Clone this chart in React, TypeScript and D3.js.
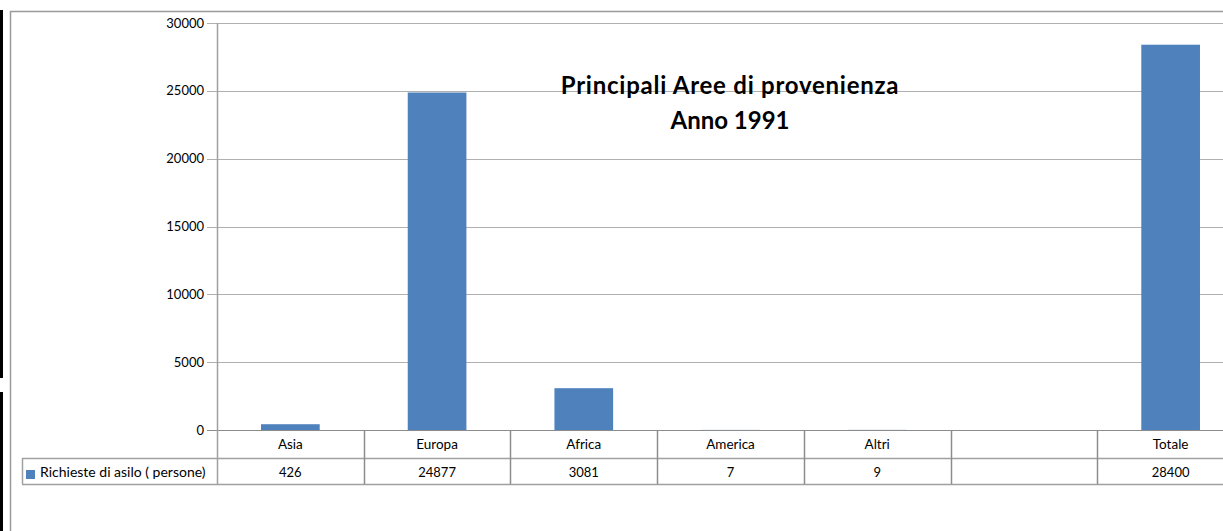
import React from "react";
import * as d3 from "d3";

const categories = ["Asia", "Europa", "Africa", "America", "Altri", "", "Totale"];
const values: (number | null)[] = [426, 24877, 3081, 7, 9, null, 28400];
const valueLabels = ["426", "24877", "3081", "7", "9", "", "28400"];
const yTicks = [0, 5000, 10000, 15000, 20000, 25000, 30000];
const seriesName = "Richieste di asilo ( persone)";
const titleLines = ["Principali Aree di provenienza", "Anno 1991"];

const W = 1223;
const H = 531;
const plotLeft = 217;
const plotRight = 1244;
const plotTop = 23;
const plotBottom = 430;
const row1Bottom = 458;
const row2Bottom = 484;
const FONT = "Lato, 'Open Sans', sans-serif";
const BLUE = "#4f81bd";

export default function App() {
  const x = d3
    .scaleBand<string>()
    .domain(categories.map((c, i) => `${i}`))
    .range([plotLeft, plotRight])
    .paddingInner(0.6)
    .paddingOuter(0.3);
  const xCol = d3
    .scaleBand<string>()
    .domain(categories.map((c, i) => `${i}`))
    .range([plotLeft, plotRight]);
  const y = d3.scaleLinear().domain([0, 30000]).range([plotBottom, plotTop]);

  return (
    <svg
      width={W}
      height={H}
      style={{ position: "absolute", left: 0, top: 0, background: "#fff" }}
      fontFamily={FONT}
    >
      {/* left black bars */}
      <rect x={0} y={10} width={3} height={368} fill="#000" />
      <rect x={0} y={392} width={3} height={H - 392} fill="#000" />
      {/* chart border */}
      <rect x={10.5} y={11.5} width={1300} height={600} fill="#fff" stroke="#9a9a9a" strokeWidth={1.5} />

      {/* gridlines + ticks */}
      {yTicks.map((t) => (
        <g key={t}>
          <line x1={207} x2={plotRight} y1={Math.round(y(t)) + 0.5} y2={Math.round(y(t)) + 0.5} stroke={t === 0 ? "#8c8c8c" : "#b0b0b0"} strokeWidth={1} />
          <text x={204} y={y(t)} dy="0.35em" textAnchor="end" fontSize={13} fill="#000">
            {t}
          </text>
        </g>
      ))}

      {/* bars */}
      {values.map((v, i) =>
        v == null ? null : (
          <rect
            key={i}
            x={x(`${i}`)!}
            y={y(v)}
            width={x.bandwidth()}
            height={y(0) - y(v)}
            fill={BLUE}
          />
        )
      )}

      {/* y axis line */}
      <line x1={plotLeft + 0.5} x2={plotLeft + 0.5} y1={plotTop} y2={row2Bottom} stroke="#a0a0a0" strokeWidth={1.5} />

      {/* data table */}
      <line x1={plotLeft} x2={plotRight} y1={row1Bottom + 0.5} y2={row1Bottom + 0.5} stroke="#a0a0a0" strokeWidth={1.5} />
      <line x1={22} x2={plotRight} y1={row2Bottom + 0.5} y2={row2Bottom + 0.5} stroke="#a0a0a0" strokeWidth={1.5} />
      <line x1={22} x2={plotLeft} y1={row1Bottom + 0.5} y2={row1Bottom + 0.5} stroke="#a0a0a0" strokeWidth={1.5} />
      <line x1={22.5} x2={22.5} y1={row1Bottom} y2={row2Bottom} stroke="#a0a0a0" strokeWidth={1.5} />
      {categories.map((c, i) =>
        i === 0 ? null : (
          <line
            key={`v${i}`}
            x1={Math.round(xCol(`${i}`)!) + 0.5}
            x2={Math.round(xCol(`${i}`)!) + 0.5}
            y1={plotBottom}
            y2={row2Bottom}
            stroke="#8c8c8c"
            strokeWidth={1.5}
          />
        )
      )}
      {categories.map((c, i) => (
        <text
          key={`c${i}`}
          x={xCol(`${i}`)! + xCol.bandwidth() / 2}
          y={449}
          textAnchor="middle"
          fontSize={13.5}
          fill="#000"
        >
          {c}
        </text>
      ))}
      {valueLabels.map((v, i) => (
        <text
          key={`l${i}`}
          x={xCol(`${i}`)! + xCol.bandwidth() / 2}
          y={477}
          textAnchor="middle"
          fontSize={13}
          fill="#000"
        >
          {v}
        </text>
      ))}
      {/* legend key */}
      <rect x={26} y={470} width={9} height={9} fill={BLUE} />
      <text x={40} y={477} fontSize={14} fill="#000">
        {seriesName}
      </text>

      {/* title */}
      {titleLines.map((t, i) => (
        <text
          key={t}
          x={730}
          y={94 + i * 35}
          textAnchor="middle"
          fontSize={24}
          fontWeight="bold"
          letterSpacing={i === 0 ? 0.75 : 0}
          fill="#000"
        >
          {t}
        </text>
      ))}
    </svg>
  );
}
